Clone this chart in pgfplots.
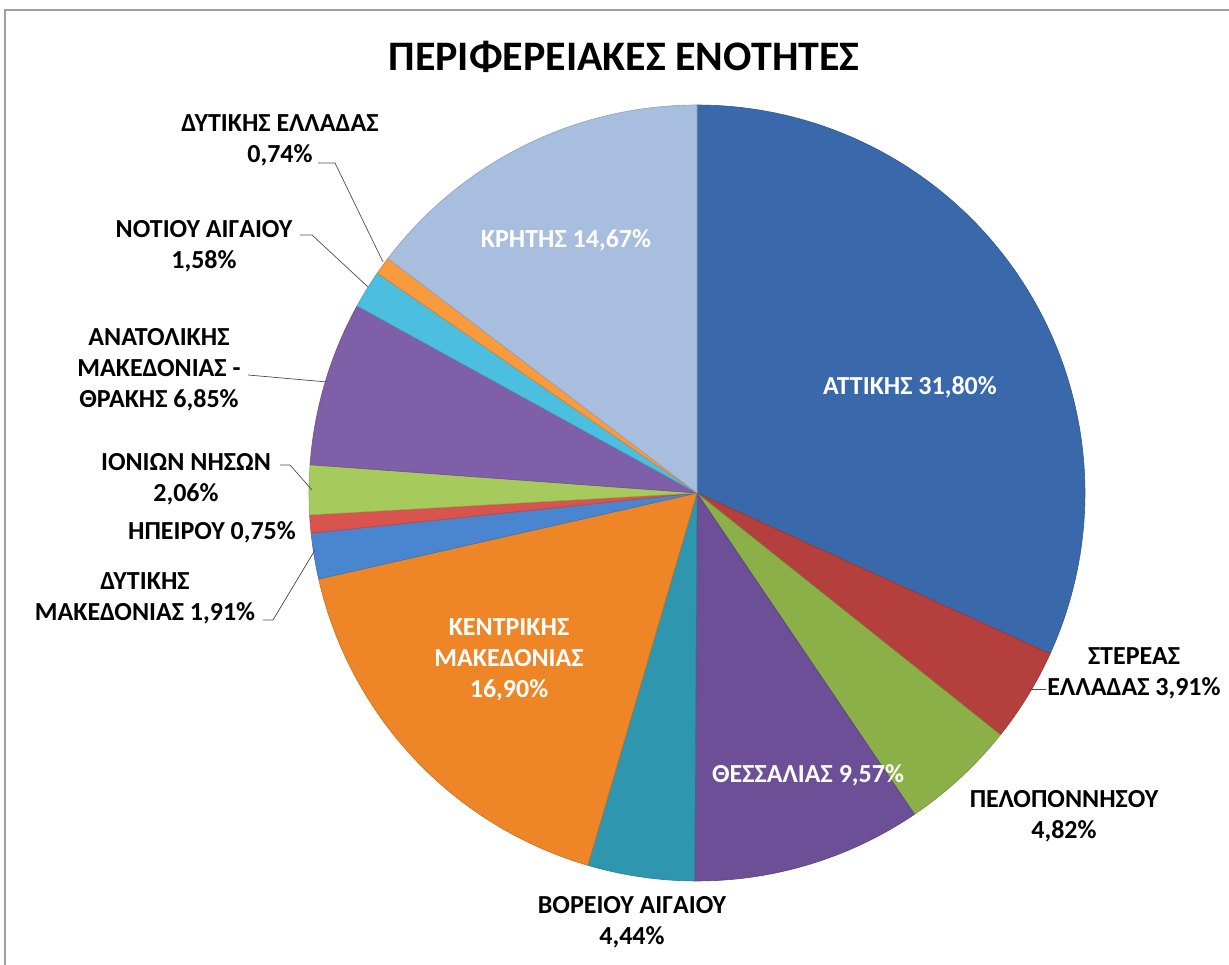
\documentclass[border=0pt]{standalone}
\usepackage{pgfplots}
\pgfplotsset{compat=1.18}
\usepackage{pgfplotstable}
\usepackage{fontspec}
\setmainfont{Carlito}

\definecolor{cAtt}{HTML}{3A69AB}
\definecolor{cSte}{HTML}{B53F3C}
\definecolor{cPel}{HTML}{8CB048}
\definecolor{cThe}{HTML}{6C4F96}
\definecolor{cVor}{HTML}{2F96B0}
\definecolor{cKen}{HTML}{EE8527}
\definecolor{cDMa}{HTML}{4A86D0}
\definecolor{cIpe}{HTML}{D9534F}
\definecolor{cIon}{HTML}{A6CB5C}
\definecolor{cAna}{HTML}{7F5FA8}
\definecolor{cNot}{HTML}{4CBFE0}
\definecolor{cDEl}{HTML}{F99A3C}
\definecolor{cKri}{HTML}{A8BEDE}

\pgfplotstableread{
value color
31.80 cAtt
3.91  cSte
4.82  cPel
9.57  cThe
4.44  cVor
16.90 cKen
1.91  cDMa
0.75  cIpe
2.06  cIon
6.85  cAna
1.58  cNot
0.74  cDEl
14.67 cKri
}\piedata

\def\cum{0}
\newcommand{\slice}[2]{%
  \pgfmathsetmacro{\sa}{90-3.6*\cum}%
  \pgfmathsetmacro{\sb}{90-3.6*(\cum+#1)}%
  \edef\doslice{\noexpand\addplot[fill=#2, draw=#2!85!black, line width=0.6pt, domain=\sb:\sa, samples=90] ({697+388*cos(x)},{472+388*sin(x)}) -- (axis cs:697,472) -- cycle;}%
  \doslice
  \pgfmathsetmacro{\newcum}{\cum+#1}%
  \xdef\cum{\newcum}%
}

\newcommand{\lab}{\fontsize{26}{31}\selectfont\bfseries}

\begin{document}
\begin{tikzpicture}
\begin{axis}[
  at={(0,0)}, anchor=south west,
  scale only axis, width=1229pt, height=965pt,
  xmin=0, xmax=1229, ymin=0, ymax=965,
  axis lines=none, clip=false]
\pgfplotstablegetrowsof{\piedata}
\pgfmathtruncatemacro{\nrows}{\pgfplotsretval-1}
\pgfplotsforeachungrouped \i in {0,...,\nrows}{%
  \pgfplotstablegetelem{\i}{value}\of\piedata \let\vv\pgfplotsretval
  \pgfplotstablegetelem{\i}{color}\of\piedata \let\cc\pgfplotsretval
  \slice{\vv}{\cc}%
}
% frame
\draw[gray!75, line width=2pt] (axis cs:5,-30) -- (axis cs:5,955) -- (axis cs:1260,955);
% title
\node[font=\fontsize{42}{48}\selectfont\bfseries] at (axis cs:624,908) {ΠΕΡΙΦΕΡΕΙΑΚΕΣ ΕΝΟΤΗΤΕΣ};
% leader lines
\draw[black!70, line width=0.7pt] (axis cs:318,802) -- (axis cs:335,802) -- (axis cs:383,703);
\draw[black!70, line width=0.7pt] (axis cs:300,730) -- (axis cs:312,730) -- (axis cs:368,678);
\draw[black!70, line width=0.7pt] (axis cs:248,590) -- (axis cs:327,583);
\draw[black!70, line width=0.7pt] (axis cs:280,500) -- (axis cs:290,500) -- (axis cs:312,475);
\draw[black!70, line width=0.7pt] (axis cs:263,345) -- (axis cs:273,345) -- (axis cs:315,415);
\draw[black!70, line width=0.7pt] (axis cs:1030,276) -- (axis cs:1046,276);
% outside labels
\node[align=center, font=\lab] at (axis cs:280,825) {ΔΥΤΙΚΗΣ ΕΛΛΑΔΑΣ\\0,74\%};
\node[align=center, font=\lab] at (axis cs:204,719) {ΝΟΤΙΟΥ ΑΙΓΑΙΟΥ\\1,58\%};
\node[align=center, font=\lab] at (axis cs:159,595) {ΑΝΑΤΟΛΙΚΗΣ\\ΜΑΚΕΔΟΝΙΑΣ -\\ΘΡΑΚΗΣ 6,85\%};
\node[align=center, font=\lab] at (axis cs:186,486) {ΙΟΝΙΩΝ ΝΗΣΩΝ\\2,06\%};
\node[align=center, font=\lab] at (axis cs:212,433) {ΗΠΕΙΡΟΥ 0,75\%};
\node[align=center, font=\lab] at (axis cs:145,367) {ΔΥΤΙΚΗΣ\\ΜΑΚΕΔΟΝΙΑΣ 1,91\%};
\node[align=center, font=\lab] at (axis cs:632,43) {ΒΟΡΕΙΟΥ ΑΙΓΑΙΟΥ\\4,44\%};
\node[align=center, font=\lab] at (axis cs:1064,149) {ΠΕΛΟΠΟΝΝΗΣΟΥ\\4,82\%};
\node[align=center, font=\lab] at (axis cs:1134,292) {ΣΤΕΡΕΑΣ\\ΕΛΛΑΔΑΣ 3,91\%};
% inside labels
\node[align=center, font=\lab, text=white] at (axis cs:509,305) {ΚΕΝΤΡΙΚΗΣ\\ΜΑΚΕΔΟΝΙΑΣ\\16,90\%};
\node[align=center, font=\lab, text=white] at (axis cs:808,190) {ΘΕΣΣΑΛΙΑΣ 9,57\%};
\node[align=center, font=\lab, text=white] at (axis cs:910,578) {ΑΤΤΙΚΗΣ 31,80\%};
\node[align=center, font=\lab, text=white] at (axis cs:566,725) {ΚΡΗΤΗΣ 14,67\%};
\end{axis}
\pgfresetboundingbox
\path[use as bounding box] (0,0) rectangle (1229pt,965pt);
\end{tikzpicture}
\end{document}
